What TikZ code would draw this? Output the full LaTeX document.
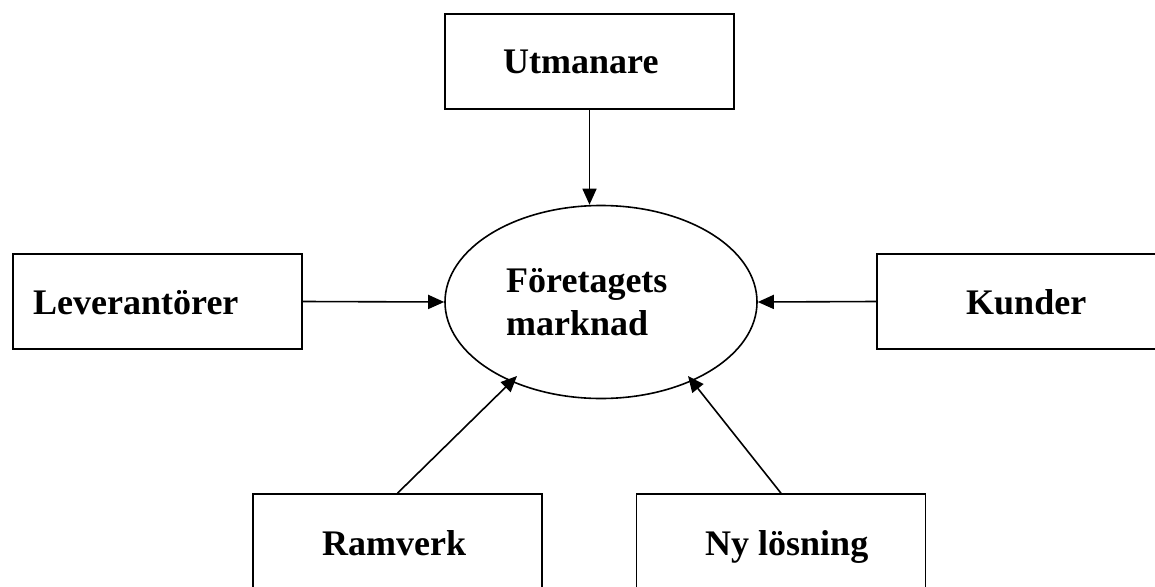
\documentclass[tikz,border=0pt]{standalone}
\usepackage{fontspec}
\setmainfont{Liberation Serif}
\usetikzlibrary{shapes.geometric,arrows.meta}
\tikzset{
  box/.style={draw,line width=1.6pt,minimum width=289pt,minimum height=95pt,inner sep=0pt},
  market/.style={draw,ellipse,line width=1.6pt,minimum width=312pt,minimum height=193pt,inner sep=0pt},
  lbl/.style={anchor=base west,inner sep=0pt,font=\fontsize{36}{43}\selectfont\bfseries},
  flow/.style={line width=1.6pt,-{Triangle[length=16pt,width=14pt]}}
}
\begin{document}
\begin{tikzpicture}[x=1pt,y=-1pt]
\useasboundingbox (0,0) rectangle (1155,586);

% boxes
\node[box] (ut)  at (589.5,61.5)  {};
\node[box] (lev) at (157.5,301.5) {};
\node[box] (kun) at (1021.5,301.5) {};
\node[box] (ram) at (397.5,541.5) {};
\node[box] (ny)  at (781,541.5)   {};
\node[market] (mkt) at (601,302) {};

% labels
\node[lbl] (utL)  at (503,74)  {Utmanare};
\node[lbl] (levL) at (33,314)  {Leverantörer};
\node[lbl] (kunL) at (966,314) {Kunder};
\node[lbl] (ramL) at (322,555) {Ramverk};
\node[lbl] (nyL)  at (705,555) {Ny lösning};
\node[lbl] (mktL1) at (506,292) {Företagets};
\node[lbl] (mktL2) at (506,335) {marknad};

% arrow tips resting on the lower rim of the ellipse
\coordinate (ramtip) at (517,376);
\coordinate (nytip)  at (688,376);

% influences on the market
\draw[flow] (ut.south) -- (ut.south |- mkt.north);
\draw[flow] (lev.east) -- (mkt.west);
\draw[flow] (kun.west) -- (mkt.east);
\draw[flow] (ram.north) -- (ramtip);
\draw[flow] (ny.north) -- (nytip);
\end{tikzpicture}
\end{document}
